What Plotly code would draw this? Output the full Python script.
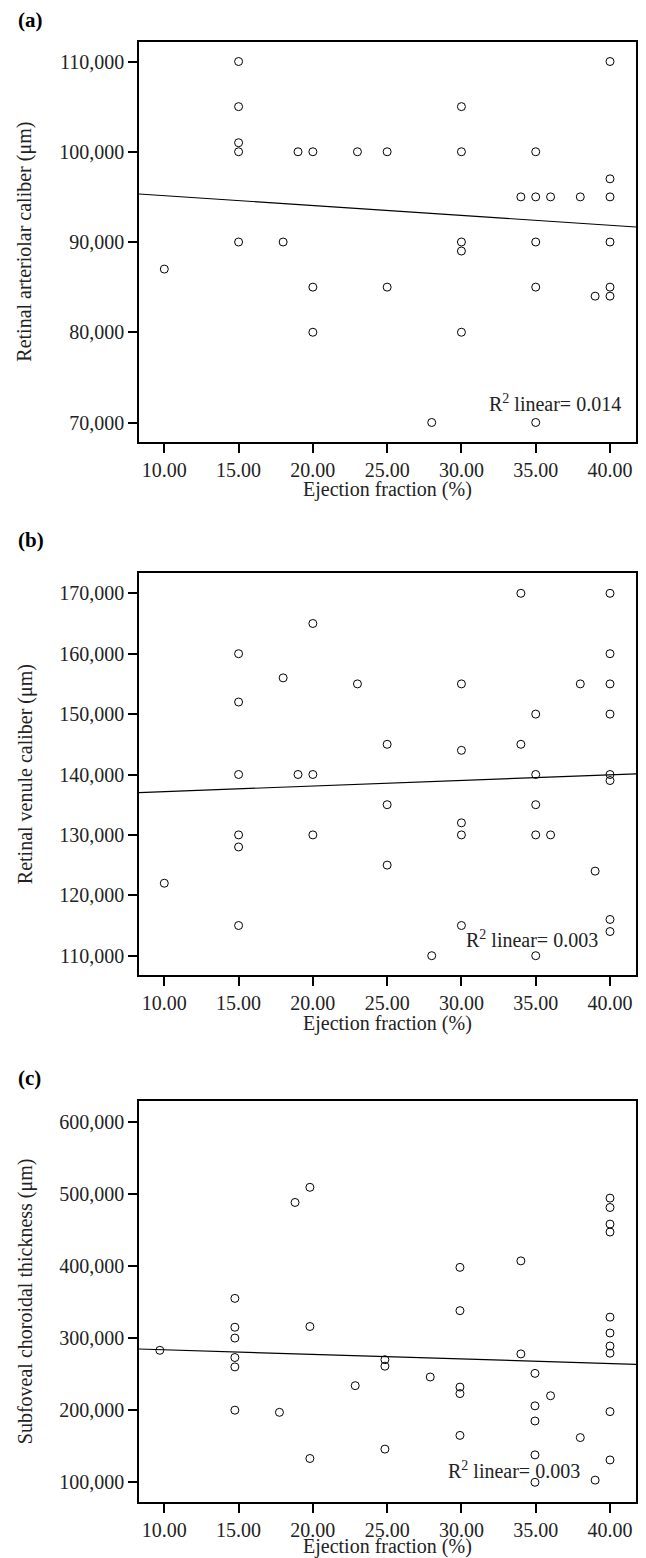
import numpy as np
import plotly.graph_objects as go

# ---------------- data ----------------
# (a) Retinal arteriolar caliber vs ejection fraction
ef_a = [15, 40, 15, 30, 15, 15, 19, 20, 23, 25, 30, 35, 40, 34, 35, 36, 38, 40,
        15, 18, 30, 35, 40, 30, 10, 20, 25, 35, 40, 39, 40, 20, 30, 28, 35]
rac_a = [110000, 110000, 105000, 105000, 101000, 100000, 100000, 100000, 100000,
         100000, 100000, 100000, 97000, 95000, 95000, 95000, 95000, 95000,
         90000, 90000, 90000, 90000, 90000, 89000, 87000, 85000, 85000, 85000,
         85000, 84000, 84000, 80000, 80000, 70000, 70000]

# (b) Retinal venule caliber vs ejection fraction
ef_b = [34, 40, 20, 15, 40, 18, 23, 30, 38, 40, 15, 35, 40, 25, 30, 34,
        15, 19, 20, 35, 40, 40, 25, 35, 30, 15, 20, 30, 35, 36, 15, 25, 39,
        10, 15, 30, 40, 40, 28, 35]
rvc_b = [170000, 170000, 165000, 160000, 160000, 156000, 155000, 155000, 155000,
         155000, 152000, 150000, 150000, 145000, 144000, 145000,
         140000, 140000, 140000, 140000, 140000, 139000, 135000, 135000, 132000,
         130000, 130000, 130000, 130000, 130000, 128000, 125000, 124000,
         122000, 115000, 115000, 116000, 114000, 110000, 110000]

# (c) Subfoveal choroidal thickness vs ejection fraction
ef_c = [9.7, 14.75, 14.75, 14.75, 14.75, 14.75, 14.75, 17.75, 18.8, 19.8, 19.8,
        19.8, 22.85, 24.85, 24.85, 24.85, 27.9, 29.9, 29.9, 29.9, 29.9, 29.9,
        34.0, 34.0, 34.95, 34.95, 34.95, 34.95, 34.95, 36.0, 38.0, 39.0,
        40, 40, 40, 40, 40, 40, 40, 40, 40, 40]
sct_c = [283000, 355000, 315000, 300000, 273000, 260000, 200000, 197000, 488000,
         509000, 316000, 133000, 234000, 270000, 261000, 146000, 246000, 398000,
         338000, 232000, 223000, 165000, 407000, 278000, 251000, 206000, 185000,
         138000, 100000, 220000, 162000, 103000, 494000, 481000, 458000, 447000,
         329000, 307000, 289000, 279000, 198000, 131000]

# fit lines: (intercept, slope)
fit_a = (96224, -109.2)
fit_b = (136243, 92.4)
fit_c = (290061, -633.8)
r2_labels = ["0.014", "0.003", "0.003"]

y_titles = ["Retinal arteriolar caliber (μm)",
            "Retinal venule caliber (μm)",
            "Subfoveal choroidal thickness (μm)"]
panel_labels = ["(a)", "(b)", "(c)"]
x_title = "Ejection fraction (%)"
x_ticks = [10, 15, 20, 25, 30, 35, 40]
y_ticks_a = [70000, 80000, 90000, 100000, 110000]
y_ticks_b = [110000, 120000, 130000, 140000, 150000, 160000, 170000]
y_ticks_c = [100000, 200000, 300000, 400000, 500000, 600000]

# ---------------- layout geometry (pixels) ----------------
W, H = 646, 1558
FONT = "Liberation Serif"
FS = 20

def fx(px):
    return px / W

def fy(py):
    return 1 - py / H

x_left, x_right = 139, 636
frames = [(41.7, 441.7), (573.3, 975.0), (1100.7, 1501.7)]
y_ranges = [(67873, 112194), (106805, 173311), (73100, 629100)]
x_range = (8.297, 41.75)
label_y = [20, 540, 1078]
xtitle_off = [48, 48, 45]
r2_pos = [(622.7, 403), (600, 939), (581.7, 1470)]

fig = go.Figure()

datasets = [(ef_a, rac_a, fit_a, y_ticks_a),
            (ef_b, rvc_b, fit_b, y_ticks_b),
            (ef_c, sct_c, fit_c, y_ticks_c)]

annotations = []
for i, (xs, ys, fit, yt) in enumerate(datasets):
    n = i + 1
    xa = "x" if n == 1 else f"x{n}"
    ya = "y" if n == 1 else f"y{n}"
    fig.add_trace(go.Scatter(
        x=xs, y=ys, mode="markers", xaxis=xa, yaxis=ya,
        marker=dict(symbol="circle-open", size=8, color="black",
                    line=dict(width=1, color="black")),
        showlegend=False, hoverinfo="x+y"))
    lx = np.array(x_range)
    ly = fit[0] + fit[1] * lx
    fig.add_trace(go.Scatter(
        x=lx, y=ly, mode="lines", xaxis=xa, yaxis=ya,
        line=dict(color="black", width=1.2), showlegend=False,
        hoverinfo="skip"))

    top, bot = frames[i]
    axis_common = dict(showline=True, mirror=True, linecolor="black",
                       linewidth=1.6, ticks="outside", ticklen=9,
                       tickwidth=1.6, tickcolor="black", showgrid=False,
                       zeroline=False, automargin=False,
                       tickfont=dict(family=FONT, size=FS, color="#222"))
    fig.update_layout(**{
        ("xaxis" if n == 1 else f"xaxis{n}"): dict(
            domain=[fx(x_left), fx(x_right)], range=list(x_range),
            anchor=ya, tickvals=x_ticks, tickformat=".2f", **axis_common),
        ("yaxis" if n == 1 else f"yaxis{n}"): dict(
            domain=[fy(bot), fy(top)], range=list(y_ranges[i]),
            anchor=xa, tickvals=yt, tickformat=",.0f", **axis_common),
    })
    mid = (top + bot) / 2
    annotations.append(dict(
        text=y_titles[i], textangle=-90, x=fx(25), y=fy(mid),
        xref="paper", yref="paper", showarrow=False,
        xanchor="center", yanchor="middle",
        font=dict(family=FONT, size=FS, color="#222")))
    annotations.append(dict(
        text=x_title, x=fx((x_left + x_right) / 2), y=fy(bot + xtitle_off[i]),
        xref="paper", yref="paper", showarrow=False,
        xanchor="center", yanchor="middle",
        font=dict(family=FONT, size=FS, color="#222")))
    annotations.append(dict(
        text="<b>" + panel_labels[i] + "</b>", x=fx(16), y=fy(label_y[i]),
        xref="paper", yref="paper", showarrow=False,
        xanchor="left", yanchor="middle",
        font=dict(family=FONT, size=FS + 1, color="black")))
    rx, ry = r2_pos[i]
    annotations.append(dict(
        text="R<sup>2</sup> linear= " + r2_labels[i], x=fx(rx), y=fy(ry),
        xref="paper", yref="paper", showarrow=False,
        xanchor="right", yanchor="middle",
        font=dict(family=FONT, size=FS, color="#222")))

fig.update_layout(
    width=W, height=H, margin=dict(l=0, r=0, t=0, b=0),
    paper_bgcolor="white", plot_bgcolor="white",
    annotations=annotations,
    font=dict(family=FONT, size=FS, color="#222"))

fig.write_html(
    "out.html",
    config={"displayModeBar": False},
    post_script="document.body.style.margin='0';"
                "document.body.style.overflow='hidden';")
